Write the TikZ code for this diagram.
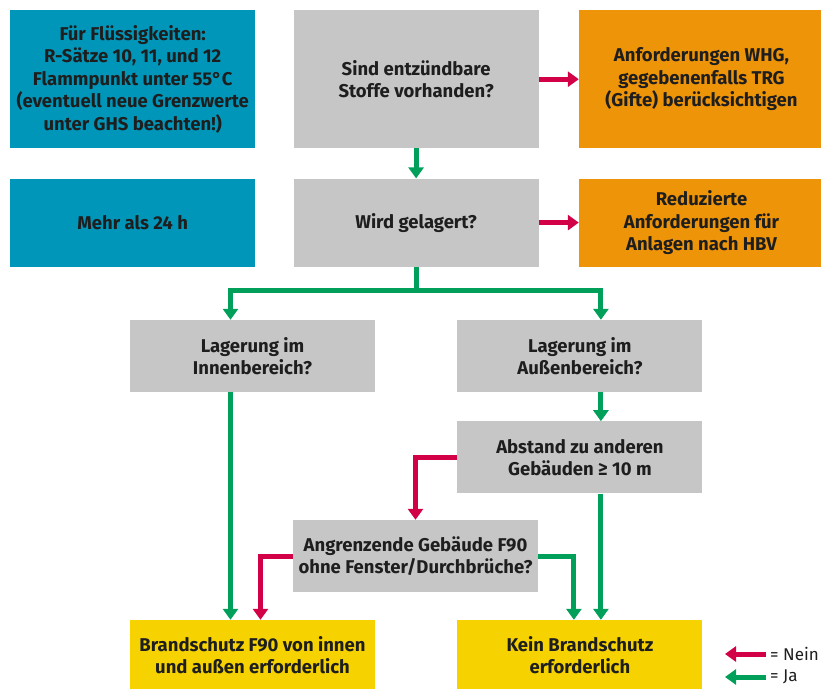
\documentclass[tikz,border=0pt]{standalone}
\usepackage{fontspec}
\setmainfont{Fira Sans}
\usetikzlibrary{arrows.meta,positioning}

\definecolor{infoblue}{RGB}{0,150,185}
\definecolor{askgray}{RGB}{198,198,198}
\definecolor{laworange}{RGB}{237,148,8}
\definecolor{endyellow}{RGB}{245,210,0}
\definecolor{nored}{RGB}{210,0,70}
\definecolor{yesgreen}{RGB}{0,160,90}
\definecolor{ink}{RGB}{30,30,30}

\begin{document}
\begin{tikzpicture}[x=1pt, y=-1pt,
  font=\fontsize{18.5}{22.5}\selectfont\bfseries,
  box/.style={align=center, inner sep=0pt, text=ink, minimum width=245pt},
  info/.style={box, fill=infoblue},
  ask/.style={box, fill=askgray},
  law/.style={box, fill=laworange},
  result/.style={box, fill=endyellow, minimum height=70pt},
  yes/.style={draw=yesgreen, line width=5pt, -{Triangle[length=11pt,width=15pt]}},
  no/.style={draw=nored, line width=5pt, -{Triangle[length=11pt,width=15pt]}}]
  \useasboundingbox (0,0) rectangle (821,688);

  \node[info, minimum height=138pt, anchor=north west] (fluessig) at (10,10)
    {Für Flüssigkeiten:\\R-Sätze 10, 11, und 12\\Flammpunkt unter 55°C\\(eventuell neue Grenzwerte\\unter GHS beachten!)};
  \node[ask, minimum height=138pt] (stoffe)   [right=38pt of fluessig] {Sind entzündbare\\Stoffe vorhanden?};
  \node[law, minimum height=138pt] (whg)      [right=40pt of stoffe]   {Anforderungen WHG,\\gegebenenfalls TRG\\(Gifte) berücksichtigen};
  \node[info, minimum height=88pt] (dauer)    [below=30pt of fluessig] {Mehr als 24 h};
  \node[ask, minimum height=88pt] (gelagert)  [below=30pt of stoffe]   {Wird gelagert?};
  \node[law, minimum height=88pt] (hbv)       [below=30pt of whg]      {Reduzierte\\Anforderungen für\\Anlagen nach HBV};
  \node[ask, minimum height=72pt] (innen) at (252.5,356)               {Lagerung im\\Innenbereich?};
  \node[ask, minimum height=72pt] (aussen)    [right=82pt of innen]    {Lagerung im\\Außenbereich?};
  \node[ask, minimum height=72pt] (abstand)   [below=29pt of aussen]   {Abstand zu anderen\\Gebäuden ≥ 10 m};
  \node[ask, minimum height=72pt] (angrenz) at (415.5,556)             {Angrenzende Gebäude F90\\ohne Fenster/Durchbrüche?};
  \node[result] (brand) at (252.5,655)                                 {Brandschutz F90 von innen\\und außen erforderlich};
  \node[result] (kein)        [right=82pt of brand]                    {Kein Brandschutz\\erforderlich};

  % legend
  \node[anchor=west, inner sep=0pt, text=ink, font=\fontsize{17}{19}\selectfont] (nein) at (770,654) {= Nein};
  \node[anchor=west, inner sep=0pt, text=ink, font=\fontsize{17}{19}\selectfont] (ja)   at (770,677) {= Ja};
  \coordinate (neinend) at (725,654);
  \coordinate (jaend)   at (725,677);

  \draw[no]  (stoffe) -- (whg);
  \draw[no]  (gelagert) -- (hbv);
  \draw[yes] (stoffe) -- (gelagert);
  \draw[yes] (gelagert.south) -- ++(0,24) -| ([xshift=-22pt]innen.north);
  \draw[yes] (gelagert.south) -- ++(0,24) -| ([xshift=21pt]aussen.north);
  \draw[yes] ([xshift=-22pt]innen.south) -- ([xshift=-22pt]brand.north);
  \draw[yes] ([xshift=21pt]aussen.south) -- ([xshift=21pt]abstand.north);
  \draw[yes] ([xshift=21pt]abstand.south) -- ([xshift=21pt]kein.north);
  \draw[no]  (abstand.west) -| (angrenz.north);
  \draw[yes] (angrenz.east) -| ([xshift=-6pt]kein.north);
  \draw[no]  (angrenz.west) -| ([xshift=8pt]brand.north);
  \draw[no]  ([xshift=-4pt]nein.west) -- (neinend);
  \draw[yes] ([xshift=-4pt]ja.west) -- (jaend);
\end{tikzpicture}
\end{document}
